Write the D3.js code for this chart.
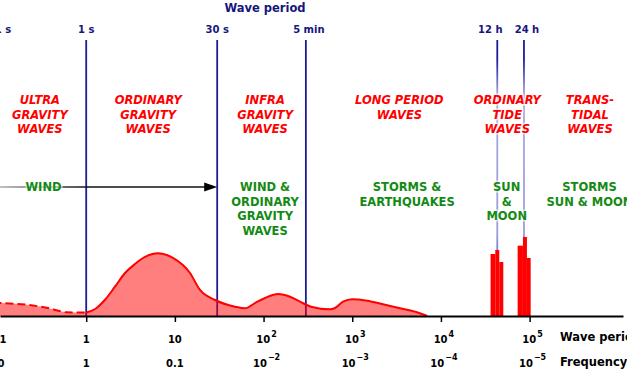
<!DOCTYPE html>
<html>
<head>
<meta charset="utf-8">
<script src="https://cdn.jsdelivr.net/npm/d3@7"></script>
<style>
  body { margin: 0; background: #fff; overflow: hidden; }
  svg { display: block; font-family: "DejaVu Sans", sans-serif; }
</style>
</head>
<body>
<script>
// periods in seconds, amplitudes in arbitrary units

// spectrum below 1 s (dashed)
var dashPeriod = [0.09, 0.25, 0.39, 0.5, 0.6, 1.0];
var dashAmp    = [2.1, 1.67, 1.19, 0.79, 0.59, 0.56];

// spectrum from 1 s (solid)
var solidPeriod = [1.0, 1.26, 1.62, 2.11, 2.74, 3.55, 4.6, 6.4, 9.5, 14.8, 19.2, 28.4, 47.7, 61.8,
                   80, 104, 146, 199, 258, 343, 562, 640, 787, 994, 1470, 2220, 3460, 5380, 7000];
var solidAmp    = [0.56, 1.11, 2.54, 4.65, 6.83, 8.25, 9.37, 9.95, 9.21, 6.83, 4.13, 2.54, 1.48, 1.22,
                   2.06, 2.86, 3.49, 3.06, 2.27, 1.48, 1.06, 1.27, 2.27, 2.65, 2.43, 1.86, 1.22, 0.59, 0];

// tide lines: [from, to, amplitude]
var tideBars = [
  [36300, 41000, 9.84], [41000, 45500, 10.48], [45500, 50500, 8.57],
  [73300, 84100, 11.16], [84100, 93300, 12.54], [93300, 102800, 9.21]
];

var markerPeriods = [0.1, 1, 30, 300, 43200, 86400];
var markerLabels  = ["0.1 s", "1 s", "30 s", "5 min", "12 h", "24 h"];

var tickPeriods = [0.1, 1, 10, 100, 1e3, 1e4, 1e5];
var periodLabels = [["0.1", ""], ["1", ""], ["10", ""], ["10", "2"], ["10", "3"], ["10", "4"], ["10", "5"]];
var freqLabels   = [["10", ""], ["1", ""], ["0.1", ""], ["10", "\u22122"], ["10", "\u22123"], ["10", "\u22124"], ["10", "\u22125"]];

var waveNames = [["ULTRA", "GRAVITY", "WAVES"], ["ORDINARY", "GRAVITY", "WAVES"], ["INFRA", "GRAVITY", "WAVES"],
                 ["LONG PERIOD", "WAVES"], ["ORDINARY", "TIDE", "WAVES"], ["TRANS-", "TIDAL", "WAVES"]];
var waveAt    = [0.3, 5, 104, 3400, 56000, 480000];

var forceNames = [["WIND"], ["WIND &", "ORDINARY", "GRAVITY", "WAVES"], ["STORMS &", "EARTHQUAKES"],
                  ["SUN", "&", "MOON"], ["STORMS", "SUN & MOON"]];
var forceAt    = [0.33, 104, 4150, 55200, 474000];

var W = 627, H = 376;
var axisY = 316, lineTop = 40;
var navy = "#1c1c96", textNavy = "#16167e", green = "#138a13";

var svg = d3.select("body").append("svg").attr("width", W).attr("height", H);
var defs = svg.append("defs");

var x = d3.scaleLog().domain([1, 1e5]).range([86.2, 529.6]);
var y = d3.scaleLinear().domain([0, 10]).range([axisY, 253]);

// gradient for tide lines
var tg = defs.append("linearGradient").attr("id", "tideLine")
  .attr("gradientUnits", "userSpaceOnUse").attr("x1", 0).attr("x2", 0).attr("y1", lineTop).attr("y2", axisY);
[[0, navy], [0.07, navy], [0.2, "#a9a9e2"], [0.7, "#9c9cdc"], [0.8, "#6a6acc"], [1, "#5555c4"]].forEach(function(s){
  tg.append("stop").attr("offset", s[0]).attr("stop-color", s[1]);
});
var ag = defs.append("linearGradient").attr("id", "arrowLine")
  .attr("gradientUnits", "userSpaceOnUse").attr("x1", 0).attr("x2", x(1)).attr("y1", 0).attr("y2", 0);
ag.append("stop").attr("offset", 0).attr("stop-color", "#aaa");
ag.append("stop").attr("offset", 1).attr("stop-color", "#111");

// vertical period lines
svg.append("g").selectAll("line")
  .data(markerPeriods)
  .enter().append("line")
    .attr("x1", function(d){ return x(d); })
    .attr("x2", function(d){ return x(d); })
    .attr("y1", lineTop).attr("y2", axisY)
    .attr("stroke", function(d){ return d > 3600 ? "url(#tideLine)" : navy; })
    .attr("stroke-width", 1.8);

// tide bars
svg.append("g").selectAll("rect")
  .data(tideBars)
  .enter().append("rect")
    .attr("x", function(d){ return x(d[0]); })
    .attr("width", function(d){ return x(d[1]) - x(d[0]); })
    .attr("y", function(d){ return y(d[2]); })
    .attr("height", function(d){ return axisY - y(d[2]); })
    .attr("fill", "#ff0000");

// spectrum
var dashPts = dashPeriod.map(function(p, i){ return [p, dashAmp[i]]; });
var solidPts = solidPeriod.map(function(p, i){ return [p, solidAmp[i]]; });
var allPts = dashPts.slice(0, -1).concat(solidPts);

var area = d3.area().curve(d3.curveMonotoneX)
  .x(function(d){ return x(d[0]); }).y0(axisY).y1(function(d){ return y(d[1]); });
var line = d3.line().curve(d3.curveMonotoneX)
  .x(function(d){ return x(d[0]); }).y(function(d){ return y(d[1]); });

svg.append("path").attr("d", area(allPts)).attr("fill", "red").attr("fill-opacity", 0.5);
svg.append("path").attr("d", line(dashPts)).attr("fill", "none").attr("stroke", "red")
  .attr("stroke-width", 2).attr("stroke-dasharray", "8,4");
svg.append("path").attr("d", line(solidPts)).attr("fill", "none").attr("stroke", "red")
  .attr("stroke-width", 2);

// axis
var xa = x.copy().domain([x.invert(0), x.invert(623)]).range([0, 623]);
var axis = svg.append("g").attr("transform", "translate(0," + axisY + ")")
  .call(d3.axisBottom(xa).tickValues(tickPeriods).tickFormat("").tickSize(6).tickSizeOuter(0));
axis.select(".domain").attr("stroke", "#000").attr("stroke-width", 1.8);
axis.selectAll(".tick line").attr("stroke", "#000").attr("stroke-width", 1.5);

function tickText(labels, ty, supDy) {
  var t = svg.append("g").selectAll("text")
    .data(labels)
    .enter().append("text")
      .attr("x", function(d, i){ return x(tickPeriods[i]) + (d[1] ? 3 : 0); })
      .attr("y", ty)
      .attr("text-anchor", "middle")
      .attr("font-size", 10).attr("font-weight", "bold").attr("fill", "#000");
  t.append("tspan").text(function(d){ return d[0]; });
  t.append("tspan").attr("dy", supDy).attr("dx", 1).attr("font-size", 8).text(function(d){ return d[1]; });
}
tickText(periodLabels, 343, -6);
tickText(freqLabels, 367, -7);

svg.append("text").attr("x", 560).attr("y", 341).attr("font-size", 11.5).attr("font-weight", "bold")
  .text("Wave period (s)");
svg.append("text").attr("x", 560).attr("y", 366).attr("font-size", 11.5).attr("font-weight", "bold")
  .text("Frequency (Hz)");

// top labels
svg.append("text").attr("x", 265).attr("y", 12).attr("text-anchor", "middle")
  .attr("font-size", 11.5).attr("font-weight", "bold").attr("fill", textNavy).text("Wave period");
svg.append("g").selectAll("text")
  .data(markerLabels)
  .enter().append("text")
    .attr("x", function(d, i){
      var off = d == "12 h" ? -7 : d == "24 h" ? 3 : d == "5 min" ? 3 : 0;
      return x(markerPeriods[i]) + off;
    })
    .attr("y", 33)
    .attr("text-anchor", "middle")
    .attr("font-size", 10).attr("font-weight", "bold").attr("fill", textNavy)
    .text(function(d){ return d; });

// wind arrow
var tipX = x(30);
svg.append("line").attr("x1", 0).attr("x2", tipX - 10).attr("y1", 187).attr("y2", 187)
  .attr("stroke", "url(#arrowLine)").attr("stroke-width", 1.5);
svg.append("path")
  .attr("d", "M" + tipX + ",187 L" + (tipX - 13) + ",182.5 L" + (tipX - 13) + ",191.5 Z")
  .attr("fill", "#000");

// multi-line labels
function block(names, at, y0, color, italic) {
  var g = svg.append("g").selectAll("text")
    .data(names)
    .enter().append("text")
      .attr("x", function(d, i){ return x(at[i]); })
      .attr("y", y0)
      .attr("text-anchor", "middle")
      .attr("font-size", 11.5).attr("font-weight", "bold")
      .attr("font-style", italic ? "italic" : "normal")
      .attr("fill", color)
      .attr("stroke", "#fff").attr("stroke-opacity", 0.6).attr("stroke-width", 3)
      .attr("paint-order", "stroke");
  g.selectAll("tspan")
    .data(function(d, i){ return d.map(function(s){ return {s: s, x: x(at[i])}; }); })
    .enter().append("tspan")
      .attr("x", function(d){ return d.x; })
      .attr("dy", function(d, j){ return j ? 14.5 : 0; })
      .text(function(d){ return d.s; });
}
block(waveNames, waveAt, 104, "#ff0000", true);
block(forceNames, forceAt, 191, green, false);
</script>
</body>
</html>
